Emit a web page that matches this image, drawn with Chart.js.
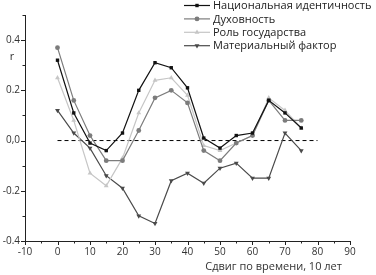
<!DOCTYPE html>
<html>
<head>
<meta charset="utf-8">
<script src="https://cdn.jsdelivr.net/npm/chart.js@4/dist/chart.umd.min.js"></script>
<style>
  html, body { margin: 0; padding: 0; background: #fff; }
  #wrap { width: 376px; height: 275px; }
</style>
</head>
<body>
<div id="wrap"><canvas id="chart" width="376" height="275"></canvas></div>
<script>
// Data
const shifts = [0, 5, 10, 15, 20, 25, 30, 35, 40, 45, 50, 55, 60, 65, 70, 75];
const nationalIdentity = [0.32, 0.11, -0.01, -0.04, 0.03, 0.20, 0.31, 0.29, 0.21, 0.01, -0.03, 0.02, 0.03, 0.16, 0.11, 0.05];
const spirituality = [0.37, 0.16, 0.02, -0.08, -0.08, 0.04, 0.17, 0.20, 0.15, -0.04, -0.08, -0.01, 0.02, 0.16, 0.08, 0.08];
const stateRole = [0.25, 0.08, -0.13, -0.18, -0.07, 0.11, 0.24, 0.25, 0.18, -0.02, -0.04, -0.01, 0.02, 0.17, 0.12, 0.05];
const materialFactor = [0.12, 0.03, -0.03, -0.14, -0.19, -0.30, -0.33, -0.16, -0.13, -0.17, -0.11, -0.09, -0.15, -0.15, 0.03, -0.04];
const zeroLine = [{ x: 0, y: 0 }, { x: 80, y: 0 }];

const seriesNames = ['Национальная идентичность', 'Духовность', 'Роль государства', 'Материальный фактор'];
const xTitle = 'Сдвиг по времени, 10 лет';
const yTitle = 'r';

const FONT = '"Open Sans", "DejaVu Sans", sans-serif';

function pts(values) {
  return values.map((v, i) => ({ x: shifts[i], y: v }));
}

const styles = [
  { color: '#111111', point: 'rect', radius: 2.4 },
  { color: '#7c7c7c', point: 'circle', radius: 2.4 },
  { color: '#c6c6c6', point: 'triangle', radius: 2.8 },
  { color: '#4a4a4a', point: 'triangle', radius: 2.8, rotation: 180 }
];

const seriesData = [nationalIdentity, spirituality, stateRole, materialFactor];

const datasets = seriesData.map((vals, i) => ({
  label: seriesNames[i],
  data: pts(vals),
  borderColor: styles[i].color,
  backgroundColor: styles[i].color,
  borderWidth: 1.2,
  pointStyle: styles[i].point,
  pointRadius: styles[i].radius,
  pointRotation: styles[i].rotation || 0,
  pointBorderWidth: 0,
  tension: 0
}));

datasets.push({
  label: 'zero',
  data: zeroLine,
  borderColor: '#000',
  borderWidth: 1,
  borderDash: [4, 3],
  pointRadius: 0
});

// ticks, axis titles and legend drawn on top
const extras = {
  id: 'extras',
  afterDraw(chart) {
    const ctx = chart.ctx;
    const xs = chart.scales.x;
    const ys = chart.scales.y;
    ctx.save();
    ctx.strokeStyle = '#222';
    ctx.lineWidth = 1;
    // y ticks
    for (let k = -4; k <= 5; k++) {
      const py = Math.round(ys.getPixelForValue(k / 10)) + 0.5;
      const len = (k % 2 === 0) ? 4 : 2.5;
      ctx.beginPath();
      ctx.moveTo(xs.left, py);
      ctx.lineTo(xs.left - len, py);
      ctx.stroke();
    }
    // x ticks
    for (let v = -10; v <= 90; v += 5) {
      const px = Math.round(xs.getPixelForValue(v)) + 0.5;
      const len = (v % 10 === 0) ? 4 : 2.5;
      ctx.beginPath();
      ctx.moveTo(px, ys.bottom);
      ctx.lineTo(px, ys.bottom + len);
      ctx.stroke();
    }
    // axis titles
    ctx.fillStyle = '#333';
    ctx.font = '11px ' + FONT;
    ctx.textAlign = 'center';
    ctx.textBaseline = 'middle';
    ctx.fillText(yTitle, 12, ys.getPixelForValue(0.335));
    ctx.fillText(xTitle, xs.getPixelForValue(66.5), 267);
    // legend
    ctx.font = '11px ' + FONT;
    ctx.textAlign = 'left';
    for (let i = 0; i < seriesNames.length; i++) {
      const ly = 5.5 + i * 13.4;
      ctx.strokeStyle = styles[i].color;
      ctx.lineWidth = 1.2;
      ctx.beginPath();
      ctx.moveTo(184, ly);
      ctx.lineTo(210, ly);
      ctx.stroke();
      ctx.fillStyle = styles[i].color;
      Chart.helpers.drawPoint(ctx, {
        pointStyle: styles[i].point,
        radius: styles[i].radius,
        rotation: styles[i].rotation || 0,
        borderWidth: 0
      }, 197, ly);
      ctx.fillStyle = '#222';
      ctx.fillText(seriesNames[i], 213, ly + 0.5);
    }
    ctx.restore();
  }
};

const ctx = document.getElementById('chart').getContext('2d');
new Chart(ctx, {
  type: 'line',
  data: { datasets: datasets },
  options: {
    responsive: false,
    animation: false,
    layout: { padding: { top: 15, right: 26, left: 0, bottom: 0 } },
    plugins: {
      legend: { display: false },
      tooltip: { enabled: false }
    },
    scales: {
      x: {
        type: 'linear',
        min: -10,
        max: 90,
        afterFit(scale) { scale.height = 34; },
        border: { display: true, color: '#222', width: 1 },
        grid: { display: false, drawTicks: false },
        ticks: {
          stepSize: 5,
          autoSkip: false,
          maxRotation: 0,
          padding: 5,
          color: '#333',
          font: { family: FONT, size: 10 },
          callback: (v) => (v % 10 === 0 ? String(v) : '')
        }
      },
      y: {
        type: 'linear',
        min: -0.4,
        max: 0.5,
        afterFit(scale) { scale.width = 25; },
        border: { display: true, color: '#222', width: 1 },
        grid: { display: false, drawTicks: false },
        ticks: {
          stepSize: 0.1,
          autoSkip: false,
          padding: 5,
          color: '#333',
          font: { family: FONT, size: 10 },
          callback: (v) => {
            const k = Math.round(v * 10);
            if (k % 2 !== 0 || k > 4) return '';
            if (k === 0) return '0,0';
            return (k / 10).toFixed(1);
          }
        }
      }
    }
  },
  plugins: [extras]
});
</script>
</body>
</html>
